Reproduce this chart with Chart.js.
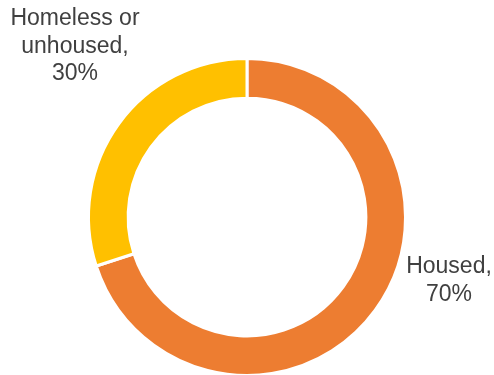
<!DOCTYPE html>
<html>
<head>
<meta charset="utf-8">
<script src="https://cdn.jsdelivr.net/npm/chart.js@4.4.0/dist/chart.umd.min.js"></script>
<style>
  html, body { margin: 0; padding: 0; background: #fff; overflow: hidden; }
  .chart-box { position: relative; width: 494px; height: 380px; }
</style>
</head>
<body>
<div class="chart-box"><canvas id="donut"></canvas></div>
<script>
const categories = ["Housed", "Homeless or unhoused"];
const shares = [70, 30];
const label_lines = [["Housed,", "70%"], ["Homeless or", "unhoused,", "30%"]];
const slice_colors = ["#ED7D31", "#FFC000"];

// label spots, given as offsets from the ring centre
const label_offsets = [
  { dx: 202, dy: 50 },
  { dx: -172, dy: -198 },
];

const outsideLabels = {
  id: "outsideLabels",
  afterDraw(chart) {
    const ctx = chart.ctx;
    const arc = chart.getDatasetMeta(0).data[0];
    if (!arc) return;
    const cx = arc.x;
    const cy = arc.y;
    ctx.save();
    ctx.font = "23px 'Liberation Sans', Arial, sans-serif";
    ctx.fillStyle = "#404040";
    ctx.textAlign = "center";
    ctx.textBaseline = "middle";
    label_lines.forEach((lines, i) => {
      const off = label_offsets[i];
      lines.forEach((line, j) => {
        ctx.fillText(line, cx + off.dx, cy + off.dy + j * 27.5);
      });
    });
    ctx.restore();
  },
};

new Chart(document.getElementById("donut"), {
  type: "doughnut",
  data: {
    labels: categories,
    datasets: [
      {
        data: shares,
        backgroundColor: slice_colors,
        borderColor: "#ffffff",
        borderWidth: 3,
        hoverOffset: 0,
      },
    ],
  },
  options: {
    responsive: true,
    maintainAspectRatio: false,
    animation: false,
    cutout: "75%",
    layout: {
      padding: { top: 57, bottom: 3, left: 0, right: 0 },
    },
    plugins: {
      legend: { display: false },
      tooltip: { enabled: false },
    },
  },
  plugins: [outsideLabels],
});
</script>
</body>
</html>
